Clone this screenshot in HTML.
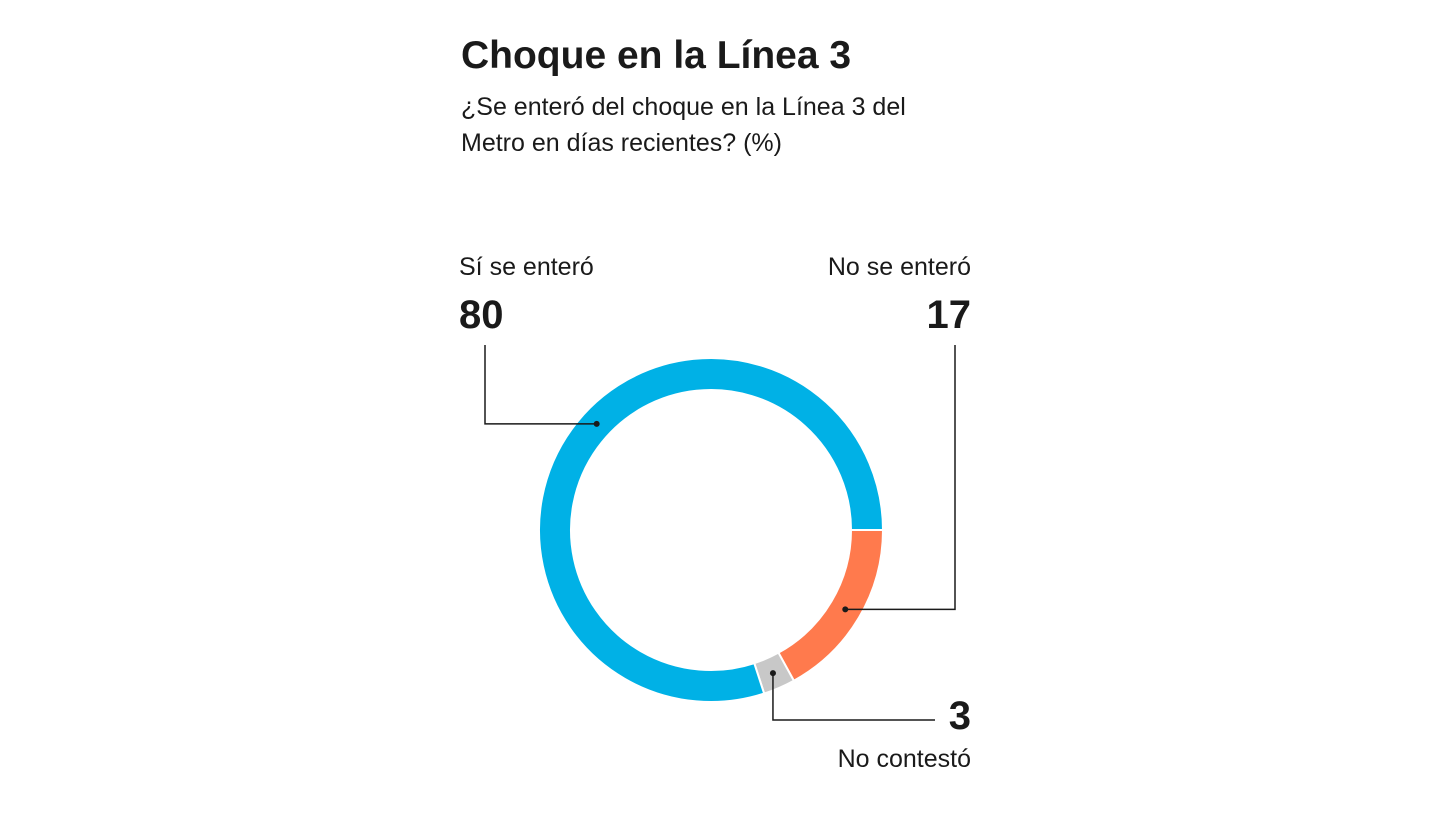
<!DOCTYPE html>
<html><head><meta charset="utf-8"><style>
body{margin:0;background:#fff;width:1440px;height:811px;overflow:hidden;font-family:"Liberation Sans",sans-serif}
</style></head><body>
<svg width="1440" height="811">
<text x="461" y="68" font-size="39" font-weight="bold" fill="#1a1a1a">Choque en la Línea 3</text>
<text x="461" y="115" font-size="25" fill="#1a1a1a">¿Se enteró del choque en la Línea 3 del</text>
<text x="461" y="151" font-size="25" fill="#1a1a1a">Metro en días recientes?  (%)</text>
<g id="donut"></g>
<g id="labels"></g>
</svg>
<script>
const categories=["No se enteró","No contestó","Sí se enteró"];
const values=[17,3,80];
const colors=["#ff7a4d","#c8c8c8","#00b1e6"];
const cx=711,cy=530,R=172,r=140;
const ns="http://www.w3.org/2000/svg";
const g=document.getElementById('donut');
function pt(a,rad){return [cx+rad*Math.cos(a),cy+rad*Math.sin(a)];}
const total=values.reduce((a,b)=>a+b,0);
let a0=0;
const mids=[];
values.forEach((v,i)=>{
 const a1=a0+v/total*2*Math.PI;
 const large=(a1-a0)>Math.PI?1:0;
 const p1=pt(a0,R),p2=pt(a1,R),p3=pt(a1,r),p4=pt(a0,r);
 const p=document.createElementNS(ns,'path');
 p.setAttribute('d',`M${p1}A${R},${R} 0 ${large} 1 ${p2}L${p3}A${r},${r} 0 ${large} 0 ${p4}Z`);
 p.setAttribute('fill',colors[i]);p.setAttribute('stroke','#fff');p.setAttribute('stroke-width','2');
 
 
 g.appendChild(p);
 mids.push((a0+a1)/2);a0=a1;
});
const L=document.getElementById('labels');
function add(tag,attrs,txt){const e=document.createElementNS(ns,tag);for(const k in attrs)e.setAttribute(k,attrs[k]);if(txt!=null)e.textContent=txt;L.appendChild(e);return e;}
const rm=(R+r)/2;
// leaders
const d0=pt(mids[0],rm),d1=pt(mids[1],rm),d2=pt(mids[2]+0.12,rm);
let e;
e=add('path',{d:`M${d0}H955V345`,fill:'none',stroke:'#1a1a1a','stroke-width':1.5});

e=add('path',{d:`M${d1}V720H935`,fill:'none',stroke:'#1a1a1a','stroke-width':1.5});

e=add('path',{d:`M${d2}H485V345`,fill:'none',stroke:'#1a1a1a','stroke-width':1.5});

[d0,d1,d2].forEach((d,i)=>{e=add('circle',{cx:d[0],cy:d[1],r:3,fill:'#1a1a1a'});});
e=add('text',{x:459,y:275,'font-size':25,fill:'#1a1a1a'},categories[2]);
e=add('text',{x:459,y:328,'font-size':40,'font-weight':'bold',fill:'#1a1a1a'},values[2]);
e=add('text',{x:971,y:275,'font-size':25,fill:'#1a1a1a','text-anchor':'end'},categories[0]);
e=add('text',{x:971,y:328,'font-size':40,'font-weight':'bold',fill:'#1a1a1a','text-anchor':'end'},values[0]);
e=add('text',{x:971,y:729,'font-size':40,'font-weight':'bold',fill:'#1a1a1a','text-anchor':'end'},values[1]);
e=add('text',{x:971,y:767,'font-size':25,fill:'#1a1a1a','text-anchor':'end'},categories[1]);
</script>
</body></html>
